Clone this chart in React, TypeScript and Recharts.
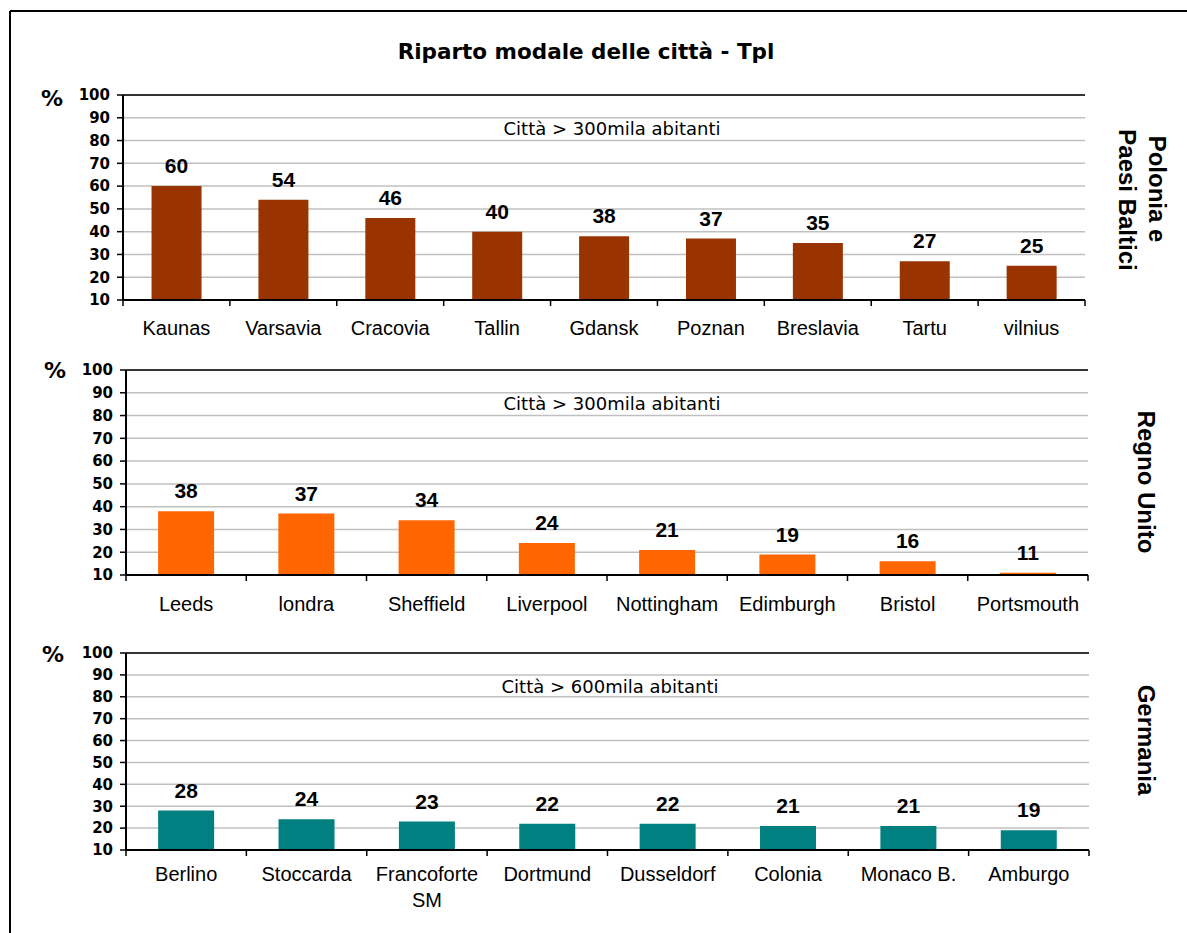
import React from 'react';
import { BarChart, Bar, XAxis, YAxis, CartesianGrid, LabelList, ReferenceLine } from 'recharts';

const polandCities = ['Kaunas', 'Varsavia', 'Cracovia', 'Tallin', 'Gdansk', 'Poznan', 'Breslavia', 'Tartu', 'vilnius'];
const polandShare = [60, 54, 46, 40, 38, 37, 35, 27, 25];

const ukCities = ['Leeds', 'londra', 'Sheffield', 'Liverpool', 'Nottingham', 'Edimburgh', 'Bristol', 'Portsmouth'];
const ukShare = [38, 37, 34, 24, 21, 19, 16, 11];

const germanyCities = ['Berlino', 'Stoccarda', 'Francoforte\nSM', 'Dortmund', 'Dusseldorf', 'Colonia', 'Monaco B.', 'Amburgo'];
const germanyShare = [28, 24, 23, 22, 22, 21, 21, 19];

const yTicks = [10, 20, 30, 40, 50, 60, 70, 80, 90, 100];

const TITLE = 'Riparto modale delle città - Tpl';

const PAGE_W = 1187;
const PAGE_H = 933;
const Y_AXIS_W = 60;

const ARIAL = '"Liberation Sans", Arial, sans-serif';
const VERDANA = '"DejaVu Sans", Verdana, sans-serif';

interface PanelProps {
  cities: string[];
  shares: number[];
  color: string;
  left: number;
  right: number;
  top: number;
  bottom: number;
  labelBaseline: number;
}

// category label plus the Excel-style tick marks that sit between categories
function CityTick(props: any) {
  const { x, y, payload, index, step, count, baseline } = props;
  const lines = String(payload.value).split('\n');
  return (
    <g>
      <line x1={x - step / 2} x2={x - step / 2} y1={y} y2={y + 6} stroke="#000" strokeWidth={1.5} />
      {index === count - 1 && (
        <line x1={x + step / 2} x2={x + step / 2} y1={y} y2={y + 6} stroke="#000" strokeWidth={1.5} />
      )}
      <text x={x} y={y + baseline} textAnchor="middle" fontFamily={ARIAL} fontSize={20} fill="#000">
        {lines.map((l, i) => (
          <tspan key={i} x={x} dy={i === 0 ? 0 : 26}>
            {l}
          </tspan>
        ))}
      </text>
    </g>
  );
}

function Panel({ cities, shares, color, left, right, top, bottom, labelBaseline }: PanelProps) {
  const data = cities.map((city, i) => ({ city, share: shares[i] }));
  const marginTop = 10;
  const axisH = 70;
  const height = marginTop + (bottom - top) + axisH;
  const step = (right - left) / cities.length;

  return (
    <div style={{ position: 'absolute', left: 0, top: top - marginTop }}>
      <BarChart
        width={PAGE_W}
        height={height}
        data={data}
        barCategoryGap="26.7%"
        margin={{ top: marginTop, right: PAGE_W - right, left: left - Y_AXIS_W, bottom: 0 }}
      >
        <CartesianGrid vertical={false} stroke="#c0c0c0" strokeWidth={1.5} />
        <XAxis
          dataKey="city"
          interval={0}
          height={axisH}
          tickSize={0}
          tickMargin={0}
          tickLine={false}
          axisLine={{ stroke: '#000', strokeWidth: 2 }}
          tick={(p: any) => <CityTick {...p} step={step} count={cities.length} baseline={labelBaseline} />}
        />
        <YAxis
          width={Y_AXIS_W}
          domain={[10, 100]}
          ticks={yTicks}
          interval={0}
          tickSize={6}
          tickMargin={7}
          axisLine={{ stroke: '#000', strokeWidth: 2 }}
          tickLine={{ stroke: '#000', strokeWidth: 1.5 }}
          tick={{ fill: '#000', fontSize: 15, fontWeight: 'bold', fontFamily: VERDANA }}
        />
        <YAxis
          yAxisId="frame"
          orientation="right"
          width={0}
          domain={[10, 100]}
          tick={false}
          tickLine={false}
          axisLine={{ stroke: '#000', strokeWidth: 1.5 }}
        />
        <ReferenceLine y={100} stroke="#000" strokeWidth={1.5} />
        <Bar dataKey="share" fill={color} isAnimationActive={false}>
          <LabelList
            dataKey="share"
            position="top"
            offset={13}
            fill="#000"
            style={{ fontSize: 21, fontWeight: 'bold', fontFamily: ARIAL }}
          />
        </Bar>
      </BarChart>
    </div>
  );
}

export default function App() {
  const subtitleStyle = { fontFamily: VERDANA, fontSize: 18, fill: '#000' };
  const percentStyle = { fontFamily: VERDANA, fontSize: 22, fontWeight: 'bold' as const, fill: '#000' };
  const sideStyle = { fontFamily: ARIAL, fontSize: 24, fontWeight: 'bold' as const, fill: '#000' };

  const side = (text: string, cx: number, cy: number) => (
    <text
      x={cx}
      y={cy}
      textAnchor="middle"
      dominantBaseline="central"
      transform={`rotate(90 ${cx} ${cy})`}
      style={sideStyle}
    >
      {text}
    </text>
  );

  return (
    <div style={{ position: 'absolute', left: 0, top: 0, width: PAGE_W, height: PAGE_H, background: '#fff' }}>
      <Panel cities={polandCities} shares={polandShare} color="#993300" left={123} right={1085} top={95} bottom={300} labelBaseline={35} />
      <Panel cities={ukCities} shares={ukShare} color="#FF6600" left={126} right={1088} top={370} bottom={575} labelBaseline={36} />
      <Panel cities={germanyCities} shares={germanyShare} color="#008080" left={126} right={1089} top={653} bottom={850} labelBaseline={31} />

      <svg width={PAGE_W} height={PAGE_H} style={{ position: 'absolute', left: 0, top: 0, pointerEvents: 'none' }}>
        {/* outer frame */}
        <line x1={10} y1={11} x2={PAGE_W} y2={11} stroke="#000" strokeWidth={2} />
        <line x1={10} y1={11} x2={10} y2={PAGE_H} stroke="#000" strokeWidth={2} />

        <text x={586} y={59} textAnchor="middle" style={{ fontFamily: VERDANA, fontSize: 21.5, fontWeight: 'bold', fill: '#000' }}>
          {TITLE}
        </text>

        <text x={52} y={106} textAnchor="middle" style={percentStyle}>%</text>
        <text x={55} y={378} textAnchor="middle" style={percentStyle}>%</text>
        <text x={53} y={662} textAnchor="middle" style={percentStyle}>%</text>

        <text x={612} y={135} textAnchor="middle" style={subtitleStyle}>Città &gt; 300mila abitanti</text>
        <text x={612} y={410} textAnchor="middle" style={subtitleStyle}>Città &gt; 300mila abitanti</text>
        <text x={610} y={693} textAnchor="middle" style={subtitleStyle}>Città &gt; 600mila abitanti</text>

        {side('Polonia e', 1157, 189)}
        {side('Paesi Baltici', 1127, 200)}
        {side('Regno Unito', 1146, 482)}
        {side('Germania', 1146, 740)}
      </svg>
    </div>
  );
}
